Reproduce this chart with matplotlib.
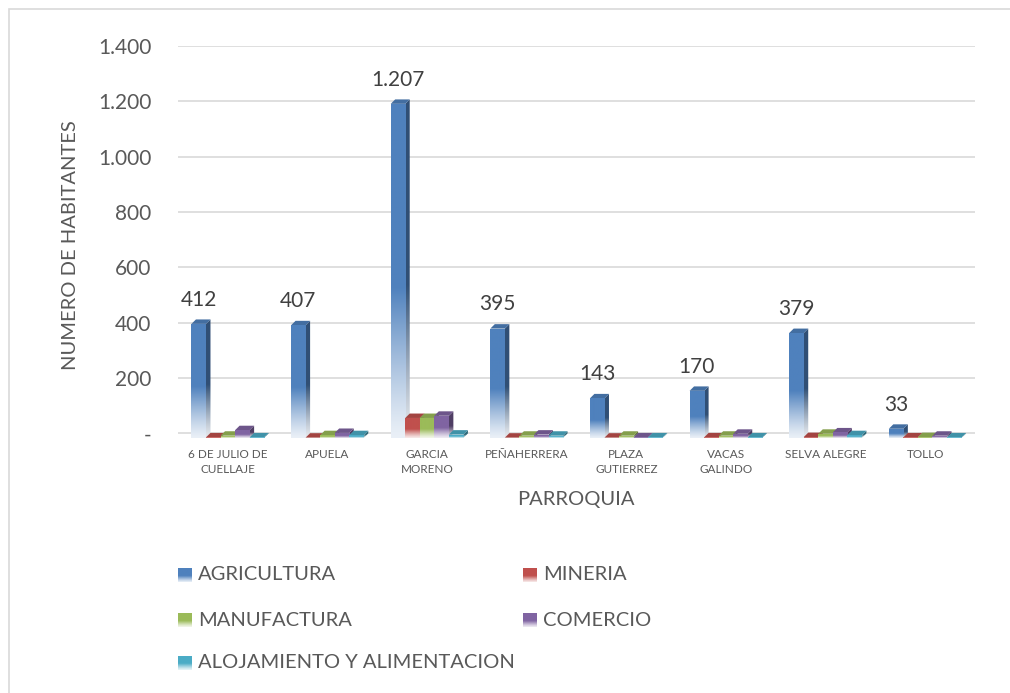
import numpy as np
from matplotlib import pyplot as plt
from matplotlib.patches import Rectangle, Polygon
from matplotlib.colors import to_rgb

plt.rcParams['font.family'] = ['Lato', 'DejaVu Sans']

parroquias = ['6 DE JULIO DE\nCUELLAJE', 'APUELA', 'GARCIA\nMORENO', 'PEÑAHERRERA',
              'PLAZA\nGUTIERREZ', 'VACAS\nGALINDO', 'SELVA ALEGRE', 'TOLLO']
sectores = ['AGRICULTURA', 'MINERIA', 'MANUFACTURA', 'COMERCIO', 'ALOJAMIENTO Y ALIMENTACION']
agricultura = [412, 407, 1207, 395, 143, 170, 379, 33]
mineria = [2, 1, 72, 1, 1, 2, 3, 2]
manufactura = [8, 10, 72, 8, 8, 8, 15, 3]
comercio = [28, 18, 80, 12, 2, 15, 20, 8]
alojamiento = [2, 10, 12, 8, 2, 2, 10, 2]
series = [agricultura, mineria, manufactura, comercio, alojamiento]
colores = ['#4f81bd', '#c0504d', '#9bbb59', '#8064a2', '#4bacc6']
yticks = [0, 200, 400, 600, 800, 1000, 1200, 1400]

W, H = 1010, 693
fig = plt.figure(figsize=(W / 100, H / 100), dpi=100)
fig.patches.append(Rectangle((9 / W, -0.1), 1.2, 1 - 9 / H + 0.1, transform=fig.transFigure,
                             fill=False, edgecolor='#d9d9d9', lw=1.2))

ax = fig.add_axes([178 / W, 1 - 439 / H, (975 - 178) / W, (439 - 46) / H])
ax.set_autoscale_on(False)
ax.set_xlim(0, len(parroquias))
ax.set_ylim(-20, 1400)
for s in ax.spines.values():
    s.set_visible(False)
for v in yticks:
    ax.axhline(v, color='#d9d9d9', lw=1.2, zorder=0)

gris = '#595959'


def fmt(v):
    return '-' if v == 0 else f'{v:,}'.replace(',', '.')


ax.set_yticks(yticks, [fmt(v) for v in yticks], fontsize=15, color=gris)
ax.set_xticks(np.arange(len(parroquias)) + 0.5, parroquias, fontsize=8.5, color=gris, linespacing=1.45)
ax.tick_params(axis='y', length=0, pad=19)
ax.tick_params(axis='x', length=0, pad=7)


def gradient(color, shade=1.0):
    c = np.array(to_rgb(color)) * shade
    t = np.linspace(0, 1, 200)[:, None]
    m = np.clip(t / 0.45, 0, 1) ** 1.2
    pale = c * 0.12 + 0.88
    img = pale[None, :] * (1 - m) + c[None, :] * m
    return img[:, None, :]


w = 0.146
dx, dy = 0.045, 16
z = 2
for i in range(len(parroquias)):
    for k, (vals, col) in enumerate(zip(series, colores)):
        h = vals[i]
        x = i + 0.5 - 2.5 * w + k * w
        # cara lateral
        side = Polygon([(x + w, -dy), (x + w + dx, 0), (x + w + dx, h), (x + w, h - dy)],
                       closed=True, facecolor='none', edgecolor='none', zorder=z)
        ax.add_patch(side)
        im = ax.imshow(gradient(col, 0.62), extent=(x + w, x + w + dx, -dy, h), origin='lower',
                       aspect='auto', zorder=z, interpolation='bilinear')
        im.set_clip_path(side)
        # cara superior
        ax.add_patch(Polygon([(x, h - dy), (x + dx, h), (x + w + dx, h), (x + w, h - dy)],
                             closed=True, facecolor=np.array(to_rgb(col)) * 0.85,
                             edgecolor='none', zorder=z + 0.5))
        # cara frontal
        front = Rectangle((x, -dy), w, h, facecolor='none', edgecolor='none', zorder=z + 1)
        ax.add_patch(front)
        im = ax.imshow(gradient(col), extent=(x, x + w, -dy, h - dy), origin='lower',
                       aspect='auto', zorder=z + 1, interpolation='bilinear')
        im.set_clip_path(front)
        z += 2
    ax.annotate(fmt(agricultura[i]), (i + 0.5 - 2.0 * w, agricultura[i]), xytext=(0, 7),
                textcoords='offset points', ha='center', va='bottom', fontsize=15, color='#404040')

fig.text(70 / W, 1 - 245 / H, 'NUMERO DE HABITANTES', rotation=90, ha='center', va='center',
         fontsize=14.5, color=gris)
fig.text(576 / W, 1 - 500 / H, 'PARROQUIA', ha='center', va='center', fontsize=14.5, color=gris)

pos = [(178, 575), (178, 620), (178, 663), (523, 575), (523, 620)]
order = [0, 2, 4, 1, 3]
for (px, py), k in zip(pos, order):
    sw = fig.add_axes([px / W, 1 - (py + 7) / H, 14 / W, 14 / H])
    sw.imshow(gradient(colores[k])[::-1][::-1], origin='lower', aspect='auto',
              extent=(0, 1, 0, 1), interpolation='bilinear')
    sw.set_axis_off()
    fig.text((px + 20) / W, 1 - py / H, sectores[k], ha='left', va='center', fontsize=14.5, color=gris)

plt.savefig('out.png', dpi=100)
plt.close()
